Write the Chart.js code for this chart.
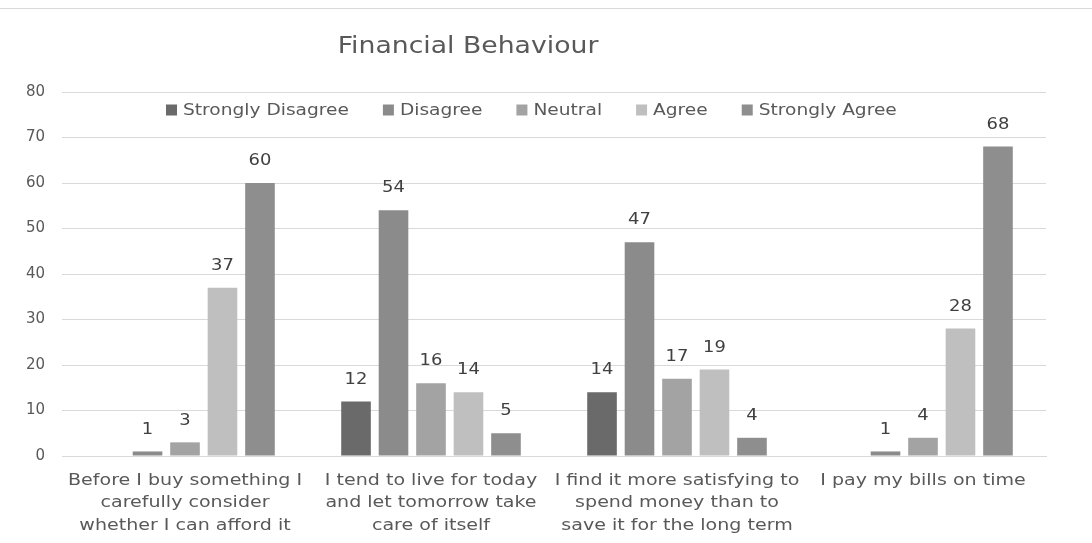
<!DOCTYPE html>
<html>
<head>
<meta charset="utf-8">
<script src="https://cdn.jsdelivr.net/npm/chart.js@4.4.1/dist/chart.umd.min.js"></script>
<style>
html,body{margin:0;padding:0;background:#fff;}
#wrap{position:relative;width:1092px;height:543px;}
</style>
</head>
<body>
<div id="wrap"><canvas id="c" width="1092" height="543"></canvas></div>
<script>
const titleText = "Financial Behaviour";
const categories = [
  ["Before I buy something I", "carefully consider", "whether I can afford it"],
  ["I tend to live for today", "and let tomorrow take", "care of itself"],
  ["I find it more satisfying to", "spend money than to", "save it for the long term"],
  ["I pay my bills on time"]
];
const seriesNames = ["Strongly Disagree", "Disagree", "Neutral", "Agree", "Strongly Agree"];
const stronglyDisagree = [null, 12, 14, null];
const disagree = [1, 54, 47, 1];
const neutral = [3, 16, 17, 4];
const agree = [37, 14, 19, 28];
const stronglyAgree = [60, 5, 4, 68];
const yTicks = [0, 10, 20, 30, 40, 50, 60, 70, 80];

const seriesValues = [stronglyDisagree, disagree, neutral, agree, stronglyAgree];
const colors = ["#6a6a6a", "#8b8b8b", "#a3a3a3", "#bfbfbf", "#8e8e8e"];
const FONT = "'DejaVu Sans', 'Noto Sans', sans-serif";

function stretchText(ctx, text, x, y, sx) {
  ctx.save();
  ctx.translate(x, y);
  ctx.scale(sx, 1);
  ctx.fillText(text, 0, 0);
  ctx.restore();
}

const decor = {
  id: 'decor',
  beforeDraw(chart) {
    const ctx = chart.ctx;
    ctx.save();
    ctx.strokeStyle = '#d9d9d9';
    ctx.lineWidth = 1;
    ctx.beginPath();
    ctx.moveTo(0, 8.5); ctx.lineTo(1092, 8.5);
    ctx.stroke();
    ctx.fillStyle = '#595959';
    ctx.font = "23px " + FONT;
    ctx.textAlign = 'center';
    ctx.textBaseline = 'middle';
    stretchText(ctx, titleText, 468, 47, 1.16);
    ctx.restore();
  },
  afterDatasetsDraw(chart) {
    const ctx = chart.ctx;
    ctx.save();
    // data labels
    ctx.fillStyle = '#404040';
    ctx.font = "16px " + FONT;
    ctx.textAlign = 'center';
    ctx.textBaseline = 'middle';
    chart.data.datasets.forEach((ds, i) => {
      const meta = chart.getDatasetMeta(i);
      meta.data.forEach((bar, j) => {
        const v = ds.data[j];
        if (v === null || v === undefined) return;
        stretchText(ctx, String(v), bar.x, bar.y - 22, 1.12);
      });
    });
    // x category labels, positioned by the x scale
    const xs = chart.scales.x;
    ctx.fillStyle = '#595959';
    ctx.font = "15px " + FONT;
    chart.data.labels.forEach((lab, i) => {
      const px = xs.getPixelForTick(i);
      const lines = Array.isArray(lab) ? lab : [lab];
      lines.forEach((ln, k) => {
        stretchText(ctx, ln, px, chart.chartArea.bottom + 25 + k * 22.5, 1.27);
      });
    });
    // legend inside plot area
    ctx.font = "15px " + FONT;
    ctx.textBaseline = 'middle';
    ctx.textAlign = 'left';
    const box = 11, gapBox = 6, gapItem = 34, sx = 1.24;
    let x = 166;
    const y = 110;
    seriesNames.forEach((n, i) => {
      ctx.fillStyle = colors[i];
      ctx.fillRect(x, y - box / 2, box, box);
      ctx.fillStyle = '#595959';
      const tx = x + box + gapBox;
      stretchText(ctx, n, tx, y + 1, sx);
      x = tx + ctx.measureText(n).width * sx + gapItem;
    });
    ctx.restore();
  }
};

new Chart(document.getElementById('c'), {
  type: 'bar',
  data: {
    labels: categories,
    datasets: seriesNames.map((n, i) => ({
      label: n,
      data: seriesValues[i],
      backgroundColor: colors[i],
      borderWidth: 0,
      categoryPercentage: 0.762,
      barPercentage: 0.79
    }))
  },
  options: {
    responsive: false,
    animation: false,
    layout: { padding: { top: 92, right: 46, left: 0, bottom: 0 } },
    plugins: {
      legend: { display: false },
      title: { display: false },
      tooltip: { enabled: false }
    },
    scales: {
      x: {
        grid: { display: false, drawTicks: false },
        border: { display: true, color: '#d9d9d9', width: 1 },
        ticks: { display: false },
        afterFit(s) { s.height = 87; }
      },
      y: {
        min: 0, max: 80,
        afterBuildTicks(s) { s.ticks = yTicks.map(v => ({ value: v })); },
        grid: { color: '#d9d9d9', drawTicks: false, lineWidth: 1 },
        border: { display: false },
        ticks: {
          color: '#595959',
          font: { family: FONT, size: 15 },
          padding: 17
        },
        afterFit(s) { s.width = 62; }
      }
    }
  },
  plugins: [decor]
});
</script>
</body>
</html>
